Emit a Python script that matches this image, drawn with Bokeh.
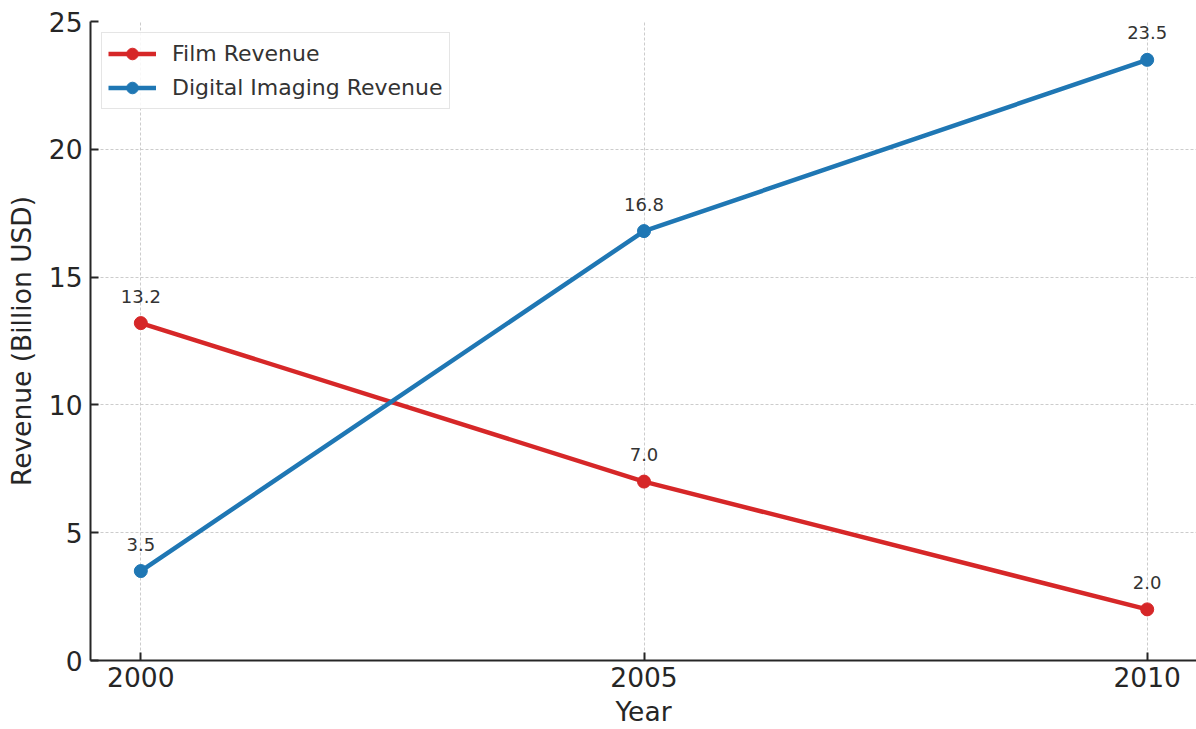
from bokeh.plotting import figure
from bokeh.models import Range1d, FixedTicker, ColumnDataSource, Legend, LegendItem
from bokeh.core.properties import value
from bokeh.embed import file_html
from bokeh.resources import INLINE

years = [2000, 2005, 2010]
film_revenue = [13.2, 7.0, 2.0]
digital_revenue = [3.5, 16.8, 23.5]
x_ticks = [2000, 2005, 2010]
y_ticks = [0, 5, 10, 15, 20, 25]

RED = "#d62728"
BLUE = "#1f77b4"
FONT = "DejaVu Sans"

p = figure(width=1196, height=729, output_backend="svg", toolbar_location=None,
           x_range=Range1d(1999.5, 2010.49), y_range=Range1d(0, 25),
           min_border_left=90, min_border_top=21, min_border_bottom=69, min_border_right=0)
p.outline_line_color = None
p.background_fill_color = "white"
p.border_fill_color = "white"

for ax, ticks in ((p.xaxis[0], x_ticks), (p.yaxis[0], y_ticks)):
    ax.ticker = FixedTicker(ticks=ticks)
    ax.minor_tick_line_color = None
    ax.major_tick_in = 8
    ax.major_tick_out = 0
    ax.major_tick_line_width = 2
    ax.major_tick_line_color = "#262626"
    ax.axis_line_width = 2
    ax.axis_line_color = "#262626"
    ax.major_label_text_font = FONT
    ax.major_label_text_font_size = "26.5px"
    ax.major_label_text_color = "#262626"
    ax.axis_label_text_font = FONT
    ax.axis_label_text_font_size = "26.5px"
    ax.axis_label_text_font_style = "normal"
    ax.axis_label_text_color = "#262626"

p.xaxis.major_label_standoff = 6
p.xaxis.axis_label_standoff = 6
p.yaxis.major_label_standoff = 8
p.yaxis.axis_label_standoff = 9
p.xaxis.axis_label = "Year"
p.yaxis.axis_label = "Revenue (Billion USD)"
p.xgrid.ticker = FixedTicker(ticks=x_ticks)
p.ygrid.ticker = FixedTicker(ticks=y_ticks)
for g in (p.xgrid[0], p.ygrid[0]):
    g.grid_line_color = "#cccccc"
    g.grid_line_dash = "3 2"
    g.grid_line_width = 1

src = ColumnDataSource(dict(
    x=years, film=film_revenue, digital=digital_revenue,
    film_lbl=[f"{v:.1f}" for v in film_revenue],
    dig_lbl=[f"{v:.1f}" for v in digital_revenue],
))

fl = p.line("x", "film", source=src, line_color=RED, line_width=4.5)
fc = p.scatter("x", "film", source=src, size=13, fill_color=RED, line_color=RED)
dl = p.line("x", "digital", source=src, line_color=BLUE, line_width=4.5)
dc = p.scatter("x", "digital", source=src, size=13, fill_color=BLUE, line_color=BLUE)

for col, lbl in (("film", "film_lbl"), ("digital", "dig_lbl")):
    p.text("x", col, text=lbl, source=src, text_align="center", text_baseline="alphabetic",
           y_offset=-27, text_font=value(FONT), text_font_size="18px", text_color="#333333")

legend = Legend(items=[LegendItem(label="Film Revenue", renderers=[fl, fc]),
                       LegendItem(label="Digital Imaging Revenue", renderers=[dl, dc])],
                location="top_left")
legend.margin = 11
legend.padding = 6
legend.spacing = 5
legend.glyph_width = 48
legend.glyph_height = 29
legend.label_standoff = 16
legend.label_text_font = FONT
legend.label_text_font_size = "22px"
legend.label_text_color = "#333333"
legend.border_line_color = "#cccccc"
legend.border_line_width = 1.5
legend.background_fill_alpha = 0.85
p.add_layout(legend)

open("out.html", "w").write(file_html(p, INLINE))
